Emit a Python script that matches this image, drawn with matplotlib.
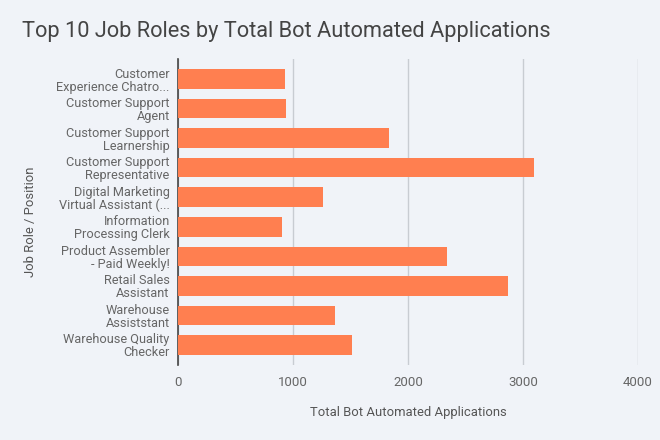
import matplotlib
matplotlib.use("Agg")
import matplotlib.pyplot as plt

roles = [
    "Customer\nExperience Chatro...",
    "Customer Support\nAgent",
    "Customer Support\nLearnership",
    "Customer Support\nRepresentative",
    "Digital Marketing\nVirtual Assistant (...",
    "Information\nProcessing Clerk",
    "Product Assembler\n- Paid Weekly!",
    "Retail Sales\nAssistant",
    "Warehouse\nAssiststant",
    "Warehouse Quality\nChecker",
]
applications = [928, 937, 1838, 3098, 1264, 907, 2336, 2870, 1368, 1510]
x_ticks = [0, 1000, 2000, 3000, 4000]

BG = "#f0f3f8"
BAR = "#ff7f50"
TEXT = "#666666"

plt.rcParams["font.family"] = ["Roboto", "DejaVu Sans"]

fig = plt.figure(figsize=(6.6, 4.4), dpi=100, facecolor=BG)
ax = fig.add_axes([178 / 660, 1 - 365 / 440, 460 / 660, 306 / 440])
ax.set_facecolor(BG)

ypos = list(range(len(roles)))
ax.barh(ypos, applications, height=0.66, color=BAR, zorder=3)

ax.set_xlim(0, 4000)
ax.set_ylim(len(roles) - 1 + 0.68, -0.68)
ax.set_xticks(x_ticks)
ax.set_xticklabels([str(t) for t in x_ticks], color=TEXT, fontsize=9.5)
ax.set_yticks(ypos)
ax.set_yticklabels(roles, color=TEXT, fontsize=9.2, linespacing=1.0)
ax.tick_params(axis="y", length=0, pad=6)
ax.tick_params(axis="x", length=0, pad=8)

ax.grid(axis="x", color="#c8ccd2", linewidth=1, zorder=0)
ax.grid(axis="y", visible=False)
for side in ["top", "right", "bottom"]:
    ax.spines[side].set_visible(False)
ax.spines["left"].set_color("#444444")
ax.spines["left"].set_linewidth(1.2)

ax.set_xlabel("Total Bot Automated Applications", color="#555555", fontsize=9.4, labelpad=12)
ax.set_ylabel("Job Role / Position", color="#555555", fontsize=9.4)
ax.yaxis.set_label_coords(-0.307, 0.467)

fig.text(22 / 660, 1 - 32 / 440, "Top 10 Job Roles by Total Bot Automated Applications",
         fontsize=15.7, color="#444444", va="center", ha="left")

plt.savefig("out.png", dpi=100, facecolor=BG)
plt.close()
